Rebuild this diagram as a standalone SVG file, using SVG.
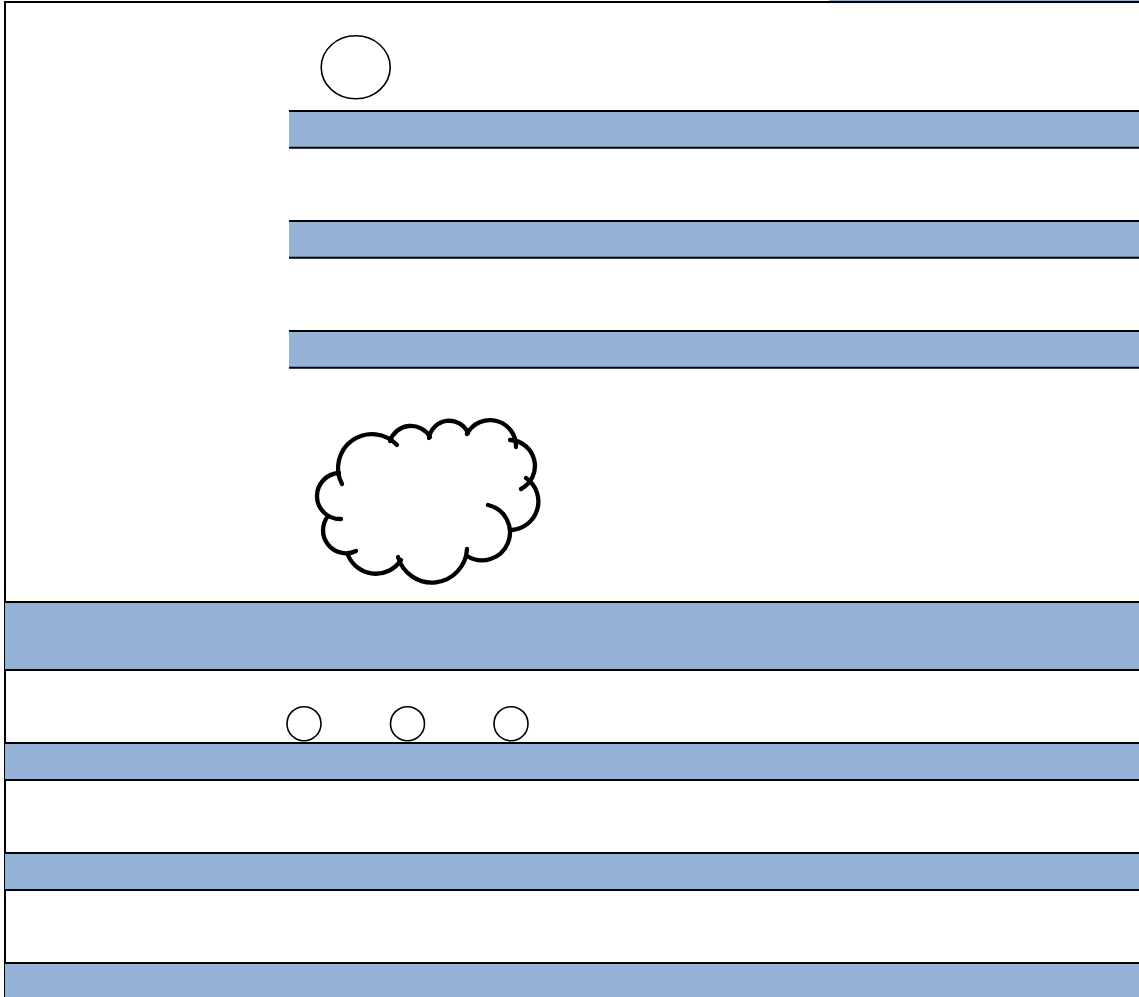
<svg xmlns="http://www.w3.org/2000/svg" width="1139" height="997" viewBox="0 0 1139 997">
  <style>
    .band { fill: #95B3D7; }
    .rule { stroke: #000; stroke-width: 2; fill: none; }
    .ring { fill: #fff; stroke: #000; stroke-width: 1.6; }
    .lobe { fill: none; stroke: #000; stroke-width: 4.3; stroke-linecap: round; }
  </style>
  <rect x="0" y="0" width="1139" height="997" fill="#fff"/>

  <g id="frame">
    <rect x="829" y="0" width="310" height="1" class="band"/>
    <line x1="4" y1="2" x2="1139" y2="2" class="rule"/>
    <line x1="5" y1="1" x2="5" y2="997" class="rule"/>
  </g>

  <g id="upper-bands">
    <g id="band-u1">
      <rect x="289" y="111" width="850" height="36.7" class="band"/>
      <line x1="289" y1="111" x2="1139" y2="111" class="rule"/>
      <line x1="289" y1="147.7" x2="1139" y2="147.7" class="rule"/>
    </g>
    <g id="band-u2">
      <rect x="289" y="221" width="850" height="36.7" class="band"/>
      <line x1="289" y1="221" x2="1139" y2="221" class="rule"/>
      <line x1="289" y1="257.7" x2="1139" y2="257.7" class="rule"/>
    </g>
    <g id="band-u3">
      <rect x="289" y="331" width="850" height="36.7" class="band"/>
      <line x1="289" y1="331" x2="1139" y2="331" class="rule"/>
      <line x1="289" y1="367.7" x2="1139" y2="367.7" class="rule"/>
    </g>
  </g>

  <g id="lower-bands">
    <g id="band-a">
      <rect x="5" y="602" width="1134" height="68" class="band"/>
      <line x1="5" y1="602" x2="1139" y2="602" class="rule"/>
      <line x1="5" y1="670" x2="1139" y2="670" class="rule"/>
    </g>
    <g id="band-b">
      <rect x="5" y="743" width="1134" height="37" class="band"/>
      <line x1="5" y1="743" x2="1139" y2="743" class="rule"/>
      <line x1="5" y1="780" x2="1139" y2="780" class="rule"/>
    </g>
    <g id="band-c">
      <rect x="5" y="853" width="1134" height="37" class="band"/>
      <line x1="5" y1="853" x2="1139" y2="853" class="rule"/>
      <line x1="5" y1="890" x2="1139" y2="890" class="rule"/>
    </g>
    <g id="band-d">
      <rect x="5" y="963" width="1134" height="34" class="band"/>
      <line x1="5" y1="963" x2="1139" y2="963" class="rule"/>
    </g>
  </g>

  <g id="ellipse-top">
    <ellipse cx="355.7" cy="67.3" rx="34.5" ry="31.5" class="ring"/>
  </g>

  <g id="circle-1"><circle cx="304" cy="723.7" r="17" class="ring"/></g>
  <g id="circle-2"><circle cx="407.5" cy="723.7" r="17" class="ring"/></g>
  <g id="circle-3"><circle cx="511" cy="723.7" r="17" class="ring"/></g>

  <g id="cloud">
    <path class="lobe" d="M341,519 A23,23 0 0 1 339,473"/>
    <path class="lobe" d="M342,484 A34,34 0 0 1 397,445"/>
    <path class="lobe" d="M390,441 A22,22 0 0 1 430,437"/>
    <path class="lobe" d="M429,438 A20.5,20.5 0 0 1 468,433"/>
    <path class="lobe" d="M467,434 A26,26 0 0 1 516,447"/>
    <path class="lobe" d="M510,440 A26,26 0 0 1 521,489"/>
    <path class="lobe" d="M526,478 A28.5,28.5 0 0 1 510,530"/>
    <path class="lobe" d="M488,505 A28,28 0 1 1 467,556"/>
    <path class="lobe" d="M467,549 A35.2,35.2 0 0 1 398,557"/>
    <path class="lobe" d="M401,560 A30,30 0 0 1 348,555"/>
    <path class="lobe" d="M356,551 A23,23 0 0 1 328,516"/>
  </g>

  <g id="connectors"/>
</svg>
